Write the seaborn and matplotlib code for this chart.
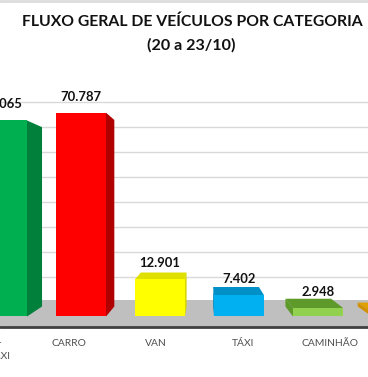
import numpy as np
import pandas as pd
import matplotlib
matplotlib.use("Agg")
import matplotlib.pyplot as plt
from matplotlib.patches import Polygon, Rectangle
from matplotlib.lines import Line2D
import seaborn as sns

# ---- data ----
categories = ["MOTO +\nMOTO TÁXI", "CARRO", "VAN", "TÁXI", "CAMINHÃO", "ÔNIBUS"]
values = [68065, 70787, 12901, 7402, 2948, 1500]
value_labels = ["68.065", "70.787", "12.901", "7.402", "2.948", "1.500"]
front_colors = ["#00B050", "#FF0000", "#FFFF00", "#00B0F0", "#92D050", "#FFC000"]
side_colors = ["#00803A", "#B00000", "#D6D600", "#0088C0", "#5E9A2A", "#D09000"]
top_colors = ["#00A04A", "#E00000", "#E0E000", "#0090C8", "#5E9A2A", "#E0A000"]
grid_values = [10000, 20000, 30000, 40000, 50000, 60000, 70000, 80000]

W, H = 368, 377
sns.set_theme(style="white")
plt.rcParams['font.family'] = ['Lato', 'DejaVu Sans']

fig = plt.figure(figsize=(W / 100, H / 100), dpi=100)
fig.patch.set_facecolor("white")

# back wall axes (gridlines)
axb = fig.add_axes([0, 0, 1, 1], zorder=0)
axb.set_xlim(0, 1)
axb.set_ylim(-30120, 120680)
for g in grid_values:
    axb.axhline(g, color="#D9D9D9", lw=1.0)
axb.axis("off")

# front axes (bars)
ax = fig.add_axes([0, 0, 1, 1], zorder=2)
ax.patch.set_alpha(0)
df = pd.DataFrame({"cat": categories, "val": values})
sns.barplot(data=df, x="cat", y="val", hue="cat", palette=front_colors,
            legend=False, width=0.633, saturation=1, linewidth=0, ax=ax, zorder=3)
ax.set_xlim(-0.025, 4.633)
ax.set_ylim(-21007, 109896)
ax.axis("off")

# floor
floor_back, floor_front = 5729, -3646
ax.add_patch(Rectangle((-1, floor_front), 10, floor_back - floor_front,
                       color="#BFBFBF", zorder=1, lw=0))
ax.axhline(floor_front, color="#404040", lw=2.0, zorder=1.5)

# 3D faces via perspective toward a vanishing point (display px)
fig.canvas.draw()
VP = np.array([204.0, H - 199.0])
t = 0.085
to_disp = ax.transData.transform
to_data = ax.transData.inverted().transform

for i, p in enumerate(ax.patches[: len(values)]):
    x0, y0 = p.get_x(), p.get_y()
    w, h = p.get_width(), p.get_height()
    corners = {"bl": (x0, y0), "br": (x0 + w, y0), "tl": (x0, y0 + h), "tr": (x0 + w, y0 + h)}
    disp = {k: to_disp(v) for k, v in corners.items()}
    back = {k: v + t * (VP - v) for k, v in disp.items()}
    cx = (disp["bl"][0] + disp["br"][0]) / 2
    faces = []
    if disp["tl"][1] < VP[1]:
        faces.append(([disp["tl"], disp["tr"], back["tr"], back["tl"]], top_colors[i]))
    if cx < VP[0]:
        faces.append(([disp["tr"], disp["br"], back["br"], back["tr"]], side_colors[i]))
    else:
        faces.append(([disp["tl"], disp["bl"], back["bl"], back["tl"]], side_colors[i]))
    for pts, col in faces:
        ax.add_patch(Polygon(to_data(np.array(pts)), closed=True, color=col, lw=0, zorder=2.5))
    if disp["bl"][0] < W:
        ax.annotate(value_labels[i], (x0 + w / 2, y0 + h), xytext=(0, 7.2),
                    textcoords="offset points", ha="center", va="bottom",
                    fontsize=9.4, fontweight="bold", color="#111111", zorder=5)

# category labels on the floor front edge (nearer depth scale)
axl = fig.add_axes([0, 0, 1, 1], zorder=3)
axl.patch.set_alpha(0)
axl.set_xlim(0.21, 4.44)
axl.set_ylim(0, H)
for i, c in enumerate(categories):
    if i > 4.44:
        continue
    axl.text(i, H - 338.5, c, ha="center", va="top",
             fontsize=7.4, color="#505050", linespacing=1.6)
axl.axis("off")

# title
fig.text(0.523, 1 - 22 / H, "FLUXO GERAL DE VEÍCULOS POR CATEGORIA", ha="center",
         va="center", fontsize=11.3, fontweight="bold", color="#111111")
fig.text(0.52, 1 - 45 / H, "(20 a 23/10)", ha="center", va="center",
         fontsize=11.6, fontweight="bold", color="#111111")
fig.add_artist(Line2D([0, 1], [1 - 0.5 / H, 1 - 0.5 / H], color="#DDDDDD", lw=2,
                      transform=fig.transFigure))

fig.savefig("out.png", dpi=100)
